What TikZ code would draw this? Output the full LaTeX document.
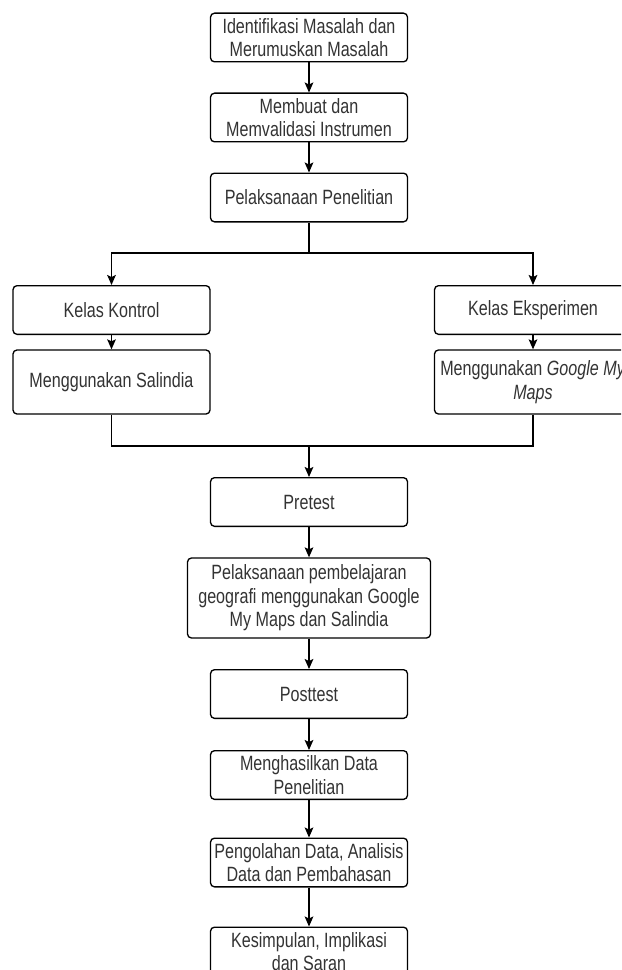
\documentclass[tikz,border=0pt]{standalone}
\usepackage{fontspec}
\setmainfont{Liberation Sans}[FakeStretch=0.78]
\usetikzlibrary{arrows.meta}
\definecolor{txt}{HTML}{333333}
\begin{document}
\begin{tikzpicture}[x=0.75pt,y=-0.75pt,
  box/.style={draw,rounded corners=3pt,line width=1pt,align=center,text=txt,
    font=\fontsize{15.5}{17.6}\selectfont,inner sep=0pt,
    minimum width=147.75pt,minimum height=36.5pt},
  arr/.style={-{Stealth[length=7.5pt,width=6.5pt,inset=1.5pt]},line width=1pt},
  ln/.style={line width=1pt}]
\clip (0,0) rectangle (621,970);
\useasboundingbox (0,0) rectangle (621,970);
\node[box] (b1) at (309,37.5) {Identifikasi Masalah dan\\Merumuskan Masalah};
\node[box] (b2) at (309,117.5) {Membuat dan\\Memvalidasi Instrumen};
\node[box] (b3) at (309,197.5) {Pelaksanaan Penelitian};
\node[box] (kk) at (111.5,310) {Kelas Kontrol};
\node[box,minimum height=48pt] (ms) at (111.5,382) {Menggunakan Salindia};
\node[box] (ke) at (533,310) {Kelas Eksperimen};
\node[box,minimum height=48pt] (mg) at (533,382) {Menggunakan \textit{Google My}\\\textit{Maps}};
\node[box] (pre) at (309,502) {Pretest};
\node[box,minimum width=182.25pt,minimum height=60pt] (pp) at (309,598) {Pelaksanaan pembelajaran\\geografi menggunakan Google\\My Maps dan Salindia};
\node[box] (post) at (309,694) {Posttest};
\node[box] (mh) at (309,775) {Menghasilkan Data\\Penelitian};
\node[box] (pd) at (309,862.5) {Pengolahan Data, Analisis\\Data dan Pembahasan};
\node[box] (ks) at (309,951.5) {Kesimpulan, Implikasi\\dan Saran};
\coordinate (split) at (309,253);
\coordinate (merge) at (309,446);
\draw[arr] (b1.south) -- (b2.north);
\draw[arr] (b2.south) -- (b3.north);
\draw[ln] (b3.south) -- (split);
\draw[arr] (split) -| (kk.north);
\draw[arr] (split) -| (ke.north);
\draw[arr] (kk.south) -- (ms.north);
\draw[arr] (ke.south) -- (mg.north);
\draw[ln] (ms.south) |- (merge);
\draw[ln] (mg.south) |- (merge);
\draw[arr] (merge) -- (pre.north);
\draw[arr] (pre.south) -- (pp.north);
\draw[arr] (pp.south) -- (post.north);
\draw[arr] (post.south) -- (mh.north);
\draw[arr] (mh.south) -- (pd.north);
\draw[arr] (pd.south) -- (ks.north);
\end{tikzpicture}
\end{document}
